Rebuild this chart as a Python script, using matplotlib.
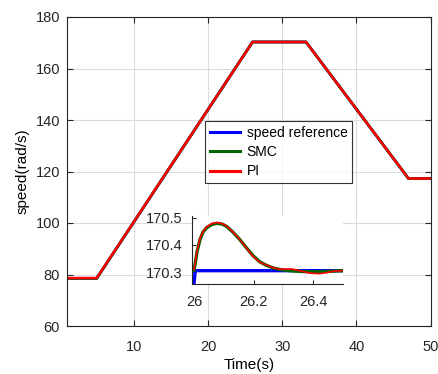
import matplotlib
matplotlib.use("Agg")
import matplotlib.pyplot as plt

plt.rcParams['font.family'] = ['Liberation Sans', 'DejaVu Sans']

# main chart data
t_ref = [1, 5, 26, 33.2, 47, 50]
v_ref = [78.5, 78.5, 170.3, 170.3, 117.3, 117.3]
t_smc = [1, 5, 26, 33.2, 47, 50]
v_smc = [78.5, 78.5, 170.3, 170.3, 117.3, 117.3]
t_pi = [1, 5, 26, 33.2, 47, 50]
v_pi = [78.6, 78.6, 170.3, 170.3, 117.3, 117.3]

# inset (zoom) data
ti_ref = [26.0, 26.004, 26.5]
vi_ref = [170.262, 170.305, 170.305]
ti_smc = [26.0, 26.005, 26.01, 26.02, 26.03, 26.042, 26.06, 26.077, 26.095, 26.11,
          26.13, 26.153, 26.175, 26.198, 26.22, 26.242, 26.265, 26.29, 26.32, 26.36,
          26.4, 26.44, 26.48, 26.5]
vi_smc = [170.307, 170.34, 170.375, 170.42, 170.447, 170.463, 170.475, 170.479, 170.476, 170.467,
          170.447, 170.42, 170.39, 170.36, 170.338, 170.325, 170.315, 170.309, 170.305, 170.302,
          170.301, 170.302, 170.304, 170.305]
ti_pi = [26.0, 26.005, 26.01, 26.02, 26.03, 26.042, 26.06, 26.077, 26.095, 26.11,
         26.13, 26.153, 26.175, 26.198, 26.22, 26.242, 26.265, 26.29, 26.31, 26.33,
         26.35, 26.38, 26.4, 26.42, 26.44, 26.47, 26.5]
vi_pi = [170.31, 170.342, 170.378, 170.424, 170.449, 170.466, 170.478, 170.482, 170.478, 170.468,
         170.448, 170.42, 170.389, 170.358, 170.336, 170.326, 170.316, 170.31, 170.311, 170.311,
         170.306, 170.298, 170.295, 170.294, 170.297, 170.303, 170.306]

xticks = [10, 20, 30, 40, 50]
yticks = [60, 80, 100, 120, 140, 160, 180]
xticks_in = [26, 26.2, 26.4]
yticks_in = [170.3, 170.4, 170.5]

fig = plt.figure(figsize=(4.38, 3.74), dpi=100)
ax = fig.add_axes([67/438, 1-326/374, (430.7-67)/438, (326-17)/374])
ax.plot(t_ref, v_ref, color='#0000ff', lw=2, label='speed reference')
ax.plot(t_smc, v_smc, color='#006400', lw=2, label='SMC')
ax.plot(t_pi, v_pi, color='#ff0000', lw=1.8, label='PI')
ax.set_xlim(1, 50)
ax.set_ylim(60, 180)
ax.set_xticks(xticks)
ax.set_yticks(yticks)
ax.grid(True, color='#dcdcdc', lw=0.8)
ax.tick_params(direction='in', labelsize=10.5, length=4, colors='#262626', top=True, right=True)
ax.tick_params(axis='x', pad=10)
ax.tick_params(axis='y', pad=5)
for s in ax.spines.values():
    s.set_color('#262626')
    s.set_linewidth(0.8)
ax.set_xlabel('Time(s)', fontsize=11, labelpad=3)
ax.set_ylabel('speed(rad/s)', fontsize=11, labelpad=4)

leg = fig.legend(loc='upper left', bbox_to_anchor=(205/438, 1-121/374), fontsize=10,
                 frameon=True, fancybox=False, edgecolor='black', handlelength=2.2,
                 borderaxespad=0, borderpad=0.35, labelspacing=0.38, handletextpad=0.45)
leg.get_frame().set_linewidth(0.8)
for h in leg.get_lines():
    h.set_linewidth(2.2)

axi = fig.add_axes([192/438, 1-284/374, (343-192)/438, (284-216)/374])
axi.set_facecolor('white')
axi.plot(ti_ref, vi_ref, color='#0000ff', lw=2.4)
axi.plot(ti_smc, vi_smc, color='#006400', lw=2.4)
axi.plot(ti_pi, vi_pi, color='#ff0000', lw=1.2)
axi.set_xlim(25.993, 26.5)
axi.set_ylim(170.256, 170.506)
axi.set_xticks(xticks_in)
axi.set_xticklabels(['26', '26.2', '26.4'])
axi.set_yticks(yticks_in)
axi.spines['top'].set_visible(False)
axi.spines['right'].set_visible(False)
for s in ['left', 'bottom']:
    axi.spines[s].set_color('#262626')
    axi.spines[s].set_linewidth(0.8)
axi.tick_params(direction='in', labelsize=10.5, length=3, colors='#262626')
axi.tick_params(axis='x', pad=8)
axi.tick_params(axis='y', pad=6.5)

fig.savefig('out.png', dpi=100)
